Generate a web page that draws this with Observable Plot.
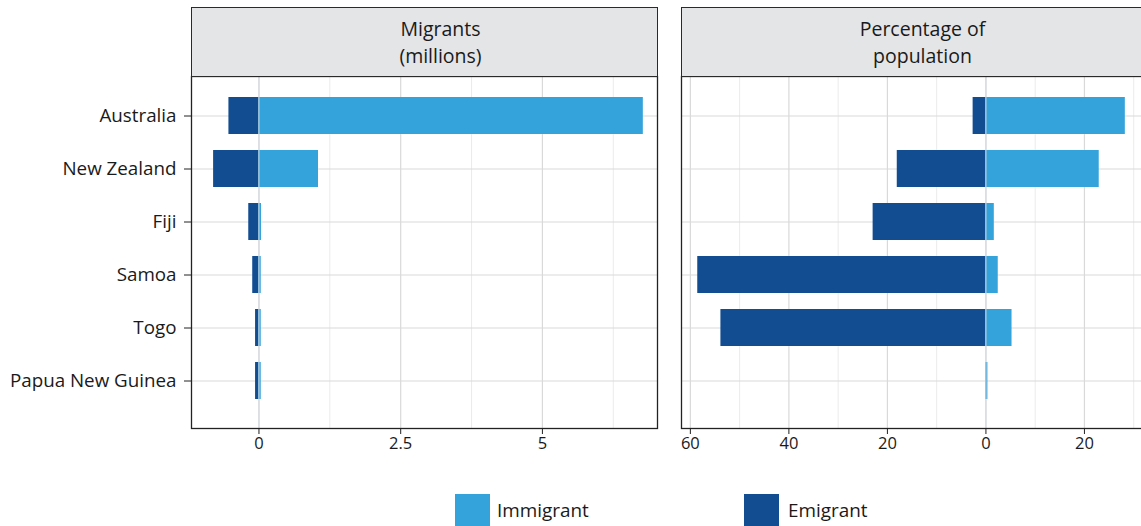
<!DOCTYPE html>
<html>
<head>
<meta charset="utf-8">
<script src="https://cdn.jsdelivr.net/npm/d3@7"></script>
<script src="https://cdn.jsdelivr.net/npm/@observablehq/plot@0.6"></script>
<style>
  html, body { margin: 0; padding: 0; background: #fff; }
  #root { position: relative; width: 1141px; height: 526px; overflow: hidden; font-family: "Open Sans", sans-serif; color: #1a1a1a; }
  .strip { position: absolute; box-sizing: border-box; background: #e4e5e7; border: 1.4px solid #2a2a2a; }
  .stripline { position: absolute; left: 0; right: 0; text-align: center; font-size: 19.5px; line-height: 26.6px; height: 26.6px; white-space: nowrap; }
  .panel { position: absolute; }
  .panel svg { max-width: none !important; }
  .sw { position: absolute; width: 35px; height: 32px; }
  .lt { position: absolute; font-size: 18.9px; line-height: 24px; }
</style>
</head>
<body>
<div id="root"></div>
<script>
// ---- data ----
const countries = ["Australia", "New Zealand", "Fiji", "Samoa", "Togo", "Papua New Guinea"];
const immigrantMillions = [6.78, 1.05, 0.045, 0.04, 0.04, 0.04];
const emigrantMillions  = [0.53, 0.80, 0.18, 0.11, 0.06, 0.06];
const immigrantPct = [28.3, 23.0, 1.7, 2.5, 5.3, 0.4];
const emigrantPct  = [2.6, 18.0, 22.9, 58.5, 53.8, 0.05];
const panelTitles = [["Migrants", "(millions)"], ["Percentage of", "population"]];
const seriesNames = ["Immigrant", "Emigrant"];
const seriesColors = ["#34a3db", "#134d91"];
const ticksMillions = [0, 2.5, 5];
const minorMillions = [1.25, 3.75, 6.25];
const ticksPct = [-60, -40, -20, 0, 20];
const minorPct = [-50, -30, -10, 10, 30];

function rows(imm, emi) {
  const out = [];
  countries.forEach((c, i) => {
    out.push({country: c, type: "Emigrant", value: -emi[i]});
    out.push({country: c, type: "Immigrant", value: imm[i]});
  });
  return out;
}

const root = document.getElementById("root");
const stripTop = 7;
const panelTop = 76, panelBottom = 428;
const panelH = panelBottom - panelTop;

function makePanel({data, domain, ticks, minor, left, width, marginLeft, marginRight, showY, fmt}) {
  const marks = [
    Plot.ruleX(minor, {stroke: "#ebebeb", strokeWidth: 1}),
    Plot.ruleX(ticks, {stroke: "#d9d9d9", strokeWidth: 1.2}),
    Plot.gridY({stroke: "#dadada", strokeOpacity: 1, strokeWidth: 1.2}),
    Plot.barX(data, {x1: () => 0, x2: "value", y: "country", fill: "type"}),
    Plot.ruleX([0], {stroke: "#d0d6de", strokeOpacity: 0.8, strokeWidth: 1.2}),
    Plot.axisX({ticks, tickSize: 6, tickPadding: 3, tickFormat: fmt, fontSize: 16.5, label: null, stroke: "#222"}),
    Plot.frame({stroke: "#222", strokeWidth: 1.3})
  ];
  if (showY) marks.push(Plot.axisY({tickSize: 7, tickPadding: 8, fontSize: 18.8, label: null, stroke: "#222"}));
  else marks.push(Plot.axisY({ticks: [], label: null}));
  const chart = Plot.plot({
    width, height: panelH + 45,
    marginLeft, marginRight, marginTop: 0, marginBottom: 45,
    style: {fontFamily: "Open Sans, sans-serif", color: "#1a1a1a", background: "transparent", overflow: "visible", maxWidth: "none"},
    x: {domain, label: null},
    y: {type: "band", domain: countries, paddingInner: 0.3, paddingOuter: 0, range: [97 - panelTop, 400 - panelTop], label: null},
    color: {domain: seriesNames, range: seriesColors},
    marks
  });
  const wrap = document.createElement("div");
  wrap.className = "panel";
  wrap.style.left = left + "px";
  wrap.style.top = panelTop + "px";
  wrap.style.width = width + "px";
  wrap.appendChild(chart);
  root.appendChild(wrap);
}

function makeStrip(lines, left, width, shift) {
  const d = document.createElement("div");
  d.className = "strip";
  d.style.left = left + "px";
  d.style.top = stripTop + "px";
  d.style.width = width + "px";
  d.style.height = (panelTop - stripTop + 1) + "px";
  lines.forEach((txt, i) => {
    const l = document.createElement("div");
    l.className = "stripline";
    l.style.top = (8.3 + i * 26.6) + "px";
    l.style.paddingLeft = (2 * shift) + "px";
    l.textContent = txt;
    d.appendChild(l);
  });
  root.appendChild(d);
}

makePanel({data: rows(immigrantMillions, emigrantMillions), domain: [-1.19, 7.03], ticks: ticksMillions, minor: minorMillions,
  left: 0, width: 660, marginLeft: 191, marginRight: 3, showY: true, fmt: d => String(d)});
makePanel({data: rows(immigrantPct, emigrantPct), domain: [-61.8, 32.8], ticks: ticksPct, minor: minorPct,
  left: 670, width: 480, marginLeft: 11, marginRight: 3, showY: false, fmt: d => String(Math.abs(d))});

makeStrip(panelTitles[0], 191, 467, 16);
makeStrip(panelTitles[1], 681, 467, 8);

// legend
const legendPos = [{sw: 455, tx: 497}, {sw: 744, tx: 788}];
seriesNames.forEach((name, i) => {
  const s = document.createElement("div");
  s.className = "sw";
  s.style.left = legendPos[i].sw + "px";
  s.style.top = "494px";
  s.style.background = seriesColors[i];
  root.appendChild(s);
  const t = document.createElement("div");
  t.className = "lt";
  t.style.left = legendPos[i].tx + "px";
  t.style.top = "498px";
  t.textContent = name;
  root.appendChild(t);
});
</script>
</body>
</html>
